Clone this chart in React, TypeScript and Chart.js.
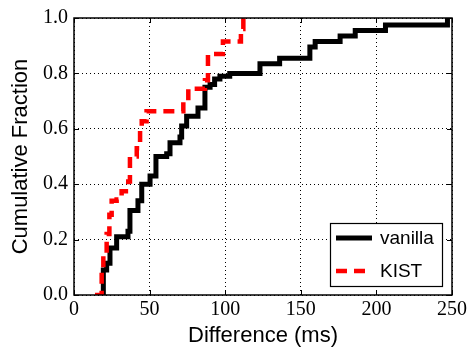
import React, { useEffect, useRef } from "react";
import { Chart, registerables } from "chart.js";

Chart.register(...registerables);

const vanillaX = [18.3, 19.4, 21.6, 23.8, 28.2, 35.7, 37, 42.3, 44.8, 50.3, 54.2, 61.3, 63.5, 70.1, 71.2, 74.5, 82, 86.6, 90, 93, 96.5, 103, 123, 136, 156, 159.5, 176, 186, 206, 247];
const vanillaF = [0, 0.09, 0.115, 0.17, 0.21, 0.23, 0.305, 0.34, 0.4, 0.43, 0.5, 0.51, 0.55, 0.57, 0.61, 0.645, 0.675, 0.75, 0.76, 0.78, 0.79, 0.8, 0.835, 0.855, 0.895, 0.915, 0.935, 0.955, 0.975, 1.0];

const kistX = [13.9, 18.3, 19.4, 21.6, 23.4, 24.9, 28.2, 31.5, 35.9, 37, 41.5, 43.7, 44.8, 48, 72.3, 75.6, 86.6, 88.6, 98.5, 110.4, 112];
const kistF = [0, 0.09, 0.14, 0.22, 0.29, 0.34, 0.345, 0.375, 0.41, 0.5, 0.53, 0.6, 0.627, 0.663, 0.7, 0.745, 0.775, 0.87, 0.915, 0.96, 1.0];

const xTicks = [0, 50, 100, 150, 200, 250];
const yTicks = [0, 0.2, 0.4, 0.6, 0.8, 1.0];

const seriesLabels = ["vanilla", "KIST"];

const frameAndLegend = {
  id: "frameAndLegend",
  afterDraw(chart: any) {
    const ctx = chart.ctx;
    const { left, top, right, bottom } = chart.chartArea;
    const xs = chart.scales.x;
    const ys = chart.scales.y;
    ctx.save();
    ctx.setLineDash([]);
    ctx.strokeStyle = "#000";
    ctx.lineWidth = 1;
    // inward ticks
    const tl = 5;
    xs.ticks.forEach((t: any) => {
      const px = Math.round(xs.getPixelForValue(t.value)) + 0.5;
      ctx.beginPath();
      ctx.moveTo(px, bottom);
      ctx.lineTo(px, bottom - tl);
      ctx.moveTo(px, top);
      ctx.lineTo(px, top + tl);
      ctx.stroke();
    });
    ys.ticks.forEach((t: any) => {
      const py = Math.round(ys.getPixelForValue(t.value)) + 0.5;
      ctx.beginPath();
      ctx.moveTo(left, py);
      ctx.lineTo(left + tl, py);
      ctx.moveTo(right, py);
      ctx.lineTo(right - tl, py);
      ctx.stroke();
    });
    // frame
    ctx.lineWidth = 1.5;
    ctx.strokeRect(left, top, right - left, bottom - top);

    // legend
    const bw = 112;
    const bh = 63;
    const bx = right - 10 - bw;
    const by = bottom - 9 - bh;
    ctx.fillStyle = "#fff";
    ctx.fillRect(bx, by, bw, bh);
    ctx.lineWidth = 1.2;
    ctx.strokeStyle = "#000";
    ctx.strokeRect(bx + 0.5, by + 0.5, bw, bh);
    const ds = chart.data.datasets;
    const rows = [by + 15, by + 48];
    ds.forEach((d: any, i: number) => {
      const y = rows[i];
      ctx.beginPath();
      ctx.strokeStyle = d.borderColor;
      ctx.lineWidth = d.borderWidth;
      ctx.lineCap = "butt";
      ctx.setLineDash(d.borderDash || []);
      ctx.moveTo(bx + 6, y);
      ctx.lineTo(bx + 42, y);
      ctx.stroke();
      ctx.setLineDash([]);
      ctx.fillStyle = "#000";
      ctx.font = "19px 'Liberation Sans', Arial, sans-serif";
      ctx.textBaseline = "middle";
      ctx.textAlign = "left";
      ctx.fillText(d.label, bx + 50, y + 1);
    });
    ctx.restore();
  },
};

export default function App() {
  const ref = useRef<HTMLCanvasElement | null>(null);
  useEffect(() => {
    document.body.style.margin = "0";
    const canvas = ref.current;
    if (!canvas) return;
    const tickFont = { family: "'Liberation Serif', 'Times New Roman', serif", size: 20 };
    const titleFont = { family: "'Liberation Sans', Arial, sans-serif", size: 22 };
    const chart = new Chart(canvas, {
      type: "line",
      data: {
        datasets: [
          {
            label: seriesLabels[0],
            data: vanillaX.map((x, i) => ({ x, y: vanillaF[i] })),
            borderColor: "#000000",
            borderWidth: 5,
            stepped: "before",
            pointRadius: 0,
            fill: false,
            order: 1,
            borderJoinStyle: "miter",
          },
          {
            label: seriesLabels[1],
            data: kistX.map((x, i) => ({ x, y: kistF[i] })),
            borderColor: "#ff0000",
            borderWidth: 4.5,
            borderDash: [11, 7],
            stepped: "before",
            pointRadius: 0,
            fill: false,
            order: 0,
            borderJoinStyle: "miter",
          },
        ],
      },
      options: {
        responsive: false,
        animation: false,
        events: [],
        layout: { padding: { left: 0, right: 18, top: 16, bottom: 0 } },
        plugins: { legend: { display: false }, tooltip: { enabled: false } },
        scales: {
          x: {
            type: "linear",
            min: 0,
            max: 250,
            afterBuildTicks: (s: any) => {
              s.ticks = xTicks.map((v) => ({ value: v }));
            },
            ticks: { font: tickFont, color: "#000", padding: 3, maxRotation: 0 },
            grid: { color: "#000", lineWidth: 1, drawTicks: false },
            border: { display: false, dash: [1, 3] },
            title: { display: true, text: "Difference (ms)", font: titleFont, color: "#000", padding: { top: 0, bottom: 1 } },
            afterFit: (s: any) => {
              s.height = 55;
            },
          },
          y: {
            type: "linear",
            min: 0,
            max: 1,
            afterBuildTicks: (s: any) => {
              s.ticks = yTicks.map((v) => ({ value: v }));
            },
            ticks: { font: tickFont, color: "#000", padding: 6, callback: (v: any) => Number(v).toFixed(1) },
            grid: { color: "#000", lineWidth: 1, drawTicks: false },
            border: { display: false, dash: [1, 3] },
            title: { display: true, text: "Cumulative Fraction", font: titleFont, color: "#000", padding: { top: 8, bottom: 0 } },
            afterFit: (s: any) => {
              s.width = 74;
            },
          },
        },
      },
      plugins: [frameAndLegend],
    });
    return () => chart.destroy();
  }, []);
  return <canvas ref={ref} width={470} height={350} style={{ display: "block" }} />;
}
